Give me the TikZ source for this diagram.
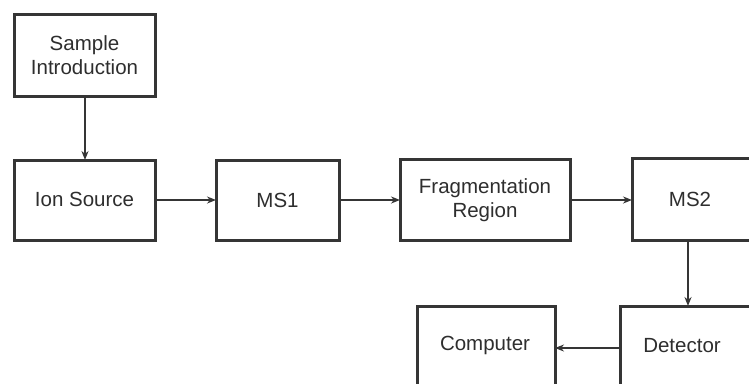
\documentclass[tikz,border=0pt]{standalone}
\usepackage{fontspec}
\setmainfont{Liberation Sans}
\usetikzlibrary{arrows.meta}
\definecolor{linegray}{HTML}{353535}
\definecolor{textgray}{HTML}{2E2E2E}
\begin{document}
\begin{tikzpicture}[x=1pt,y=-1pt,
  blk/.style={draw=linegray, line width=3pt, fill=white},
  lbl/.style={text=textgray, font=\fontsize{20.5}{24}\selectfont, align=center, inner sep=0pt},
  conn/.style={draw=linegray, line width=2.8pt, -{Stealth[length=9pt,width=7pt]}}]
\useasboundingbox (0,0) rectangle (749,383);
\clip (0,0) rectangle (749,383);
% boxes
\draw[blk] (14,14) rectangle (155,96);
\node[lbl] (samp) at (84.5,55) {Sample\\Introduction};
\draw[blk] (14,160) rectangle (155,240);
\node[lbl] (ion) at (84.5,199) {Ion Source};
\draw[blk] (216,160) rectangle (339,240);
\node[lbl] (ms1) at (277.5,200) {MS1};
\draw[blk] (400,159) rectangle (570,240);
\node[lbl] (frag) at (485,200) {Fragmentation\\Region};
\draw[blk] (632,158) rectangle (790,240);
\node[lbl] (ms2) at (690,199) {MS2};
\draw[blk] (620,306) rectangle (790,420);
\node[lbl] (det) at (682,346) {Detector};
\draw[blk] (417,306) rectangle (555,420);
\node[lbl] (comp) at (485,345) {Computer};
% anchor coordinates on box edges
\coordinate (sampB) at (85,96);
\coordinate (ionT) at (85,160);
\coordinate (ionR) at (155,200);
\coordinate (ms1L) at (216,200);
\coordinate (ms1R) at (339,200);
\coordinate (fragL) at (400,200);
\coordinate (fragR) at (570,200);
\coordinate (ms2L) at (632,200);
\coordinate (ms2B) at (688,240);
\coordinate (detT) at (688,306);
\coordinate (detL) at (620,348);
\coordinate (compR) at (555,348);
% connectors
\draw[conn] (sampB) -- (ionT);
\draw[conn] (ionR) -- (ms1L);
\draw[conn] (ms1R) -- (fragL);
\draw[conn] (fragR) -- (ms2L);
\draw[conn] (ms2B) -- (detT);
\draw[conn] (detL) -- (compR);
\end{tikzpicture}
\end{document}
